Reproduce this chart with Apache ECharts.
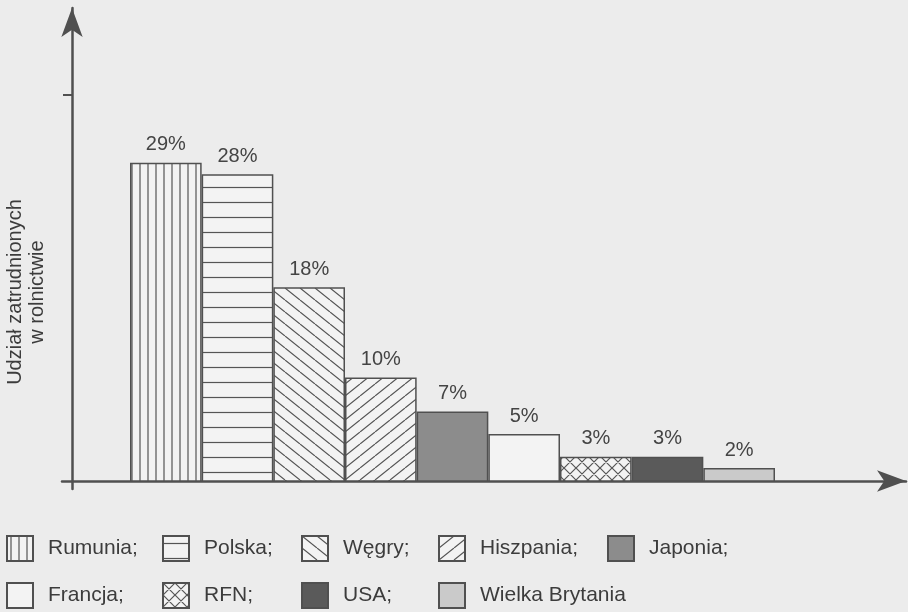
<!DOCTYPE html>
<html>
<head>
<meta charset="utf-8">
<script src="https://cdn.jsdelivr.net/npm/echarts@6/dist/echarts.min.js"></script>
<style>
html,body{margin:0;padding:0;background:#ececec;}
#c{width:908px;height:612px;}
</style>
</head>
<body>
<div id="c"></div>
<script>
// ---- data ----
const countries = ['Rumunia', 'Polska', 'Węgry', 'Hiszpania', 'Japonia', 'Francja', 'RFN', 'USA', 'Wielka Brytania'];
const shares = [29, 28, 18, 10, 7, 5, 3, 3, 2];
const yTickValues = [35];
const yAxisTitle = 'Udział zatrudnionych\nw rolnictwie';
const legendColumns = [
  ['Rumunia', 'Francja'],
  ['Polska', 'RFN'],
  ['Węgry', 'USA'],
  ['Hiszpania', 'Wielka Brytania'],
  ['Japonia']
];

// ---- styles ----
const LINE = '#505050';
const FONT = '"Liberation Sans", Arial, Helvetica, sans-serif';
const yMin = 0.85, yMax = 42.7;

function pattern(draw, w, h, bg) {
  const c = document.createElement('canvas');
  c.width = w; c.height = h;
  const g = c.getContext('2d');
  g.fillStyle = bg; g.fillRect(0, 0, w, h);
  g.strokeStyle = '#555'; g.lineWidth = 1.2;
  g.beginPath(); draw(g, w, h); g.stroke();
  return { image: c, repeat: 'repeat' };
}
const light = '#f3f3f3';
const fills = [
  pattern((g, w, h) => { g.moveTo(w / 2, 0); g.lineTo(w / 2, h); }, 8, 8, light),
  pattern((g, w, h) => { g.moveTo(0, h / 2); g.lineTo(w, h / 2); }, 15, 15, light),
  pattern((g, w, h) => { for (let k = -1; k <= 1; k++) { g.moveTo(k * w, 0); g.lineTo(k * w + w, h); } }, 15, 12, light),
  pattern((g, w, h) => { for (let k = -1; k <= 1; k++) { g.moveTo(k * w, h); g.lineTo(k * w + w, 0); } }, 15, 12, light),
  '#8c8c8c',
  light,
  pattern((g, w, h) => { for (let k = -1; k <= 1; k++) { g.moveTo(k * w, 0); g.lineTo(k * w + w, h); g.moveTo(k * w, h); g.lineTo(k * w + w, 0); } }, 12, 12, light),
  '#5a5a5a',
  '#cacaca'
];

const series = countries.map((name, i) => ({
  name: name,
  type: 'bar',
  xAxisIndex: 1,
  yAxisIndex: 1,
  stack: 'all',
  barWidth: '100%',
  barCategoryGap: '0%',
  data: countries.map((c, j) => j === i ? shares[i] : '-'),
  itemStyle: { color: fills[i], borderColor: LINE, borderWidth: 1.5 },
  label: {
    show: true, position: 'top', distance: 8,
    formatter: p => p.value + '%',
    fontSize: 20, color: '#444', fontFamily: FONT
  },
  emphasis: { disabled: true }
}));

const legendLeft = [6, 162, 301, 438, 607];
const legends = legendColumns.map((cols, k) => ({
  data: cols,
  orient: 'vertical',
  left: legendLeft[k],
  top: 535,
  padding: 0,
  icon: 'rect',
  itemWidth: 26,
  itemHeight: 25,
  itemGap: 20,
  selectedMode: false,
  formatter: n => n === 'Wielka Brytania' ? n : n + ';',
  textStyle: { fontSize: 21, color: '#3c3c3c', fontFamily: FONT, padding: [4, 0, 0, 10] }
}));

// decor axes grid extends a bit beyond origin (crossing lines)
const padPx = 8, plotPx = 473;
const aMin = yMin - (padPx / plotPx) * (yMax - yMin);

const option = {
  backgroundColor: '#ececec',
  animation: false,
  grid: [
    { left: 62, right: 2, top: 8, bottom: 123 },
    { left: 130, right: 133, top: 8, bottom: 131 }
  ],
  xAxis: [
    {
      gridIndex: 0, type: 'value', min: 0, max: 1, offset: -padPx,
      axisLine: { show: true, lineStyle: { color: LINE, width: 2.5 }, symbol: ['none', 'arrow'], symbolSize: [16, 29] },
      axisTick: { show: false }, axisLabel: { show: false }, splitLine: { show: false }
    },
    { gridIndex: 1, type: 'category', data: countries, show: false }
  ],
  yAxis: [
    {
      gridIndex: 0, type: 'value', min: aMin, max: yMax, offset: -10,
      axisLine: { show: true, lineStyle: { color: LINE, width: 2.5 }, symbol: ['none', 'arrow'], symbolSize: [16, 29] },
      axisTick: { show: true, customValues: yTickValues, length: 9, lineStyle: { color: LINE, width: 2 } },
      axisLabel: { show: false }, splitLine: { show: false }
    },
    { gridIndex: 1, type: 'value', min: yMin, max: yMax, show: false, splitLine: { show: false } }
  ],
  legend: legends,
  graphic: [{
    type: 'text',
    x: 26, y: 292,
    rotation: Math.PI / 2,
    style: {
      text: yAxisTitle,
      fontSize: 20, lineHeight: 22, fill: '#3c3c3c', fontFamily: FONT,
      align: 'center', verticalAlign: 'middle'
    }
  }],
  series: series
};

const chart = echarts.init(document.getElementById('c'));
chart.setOption(option);
</script>
</body>
</html>
